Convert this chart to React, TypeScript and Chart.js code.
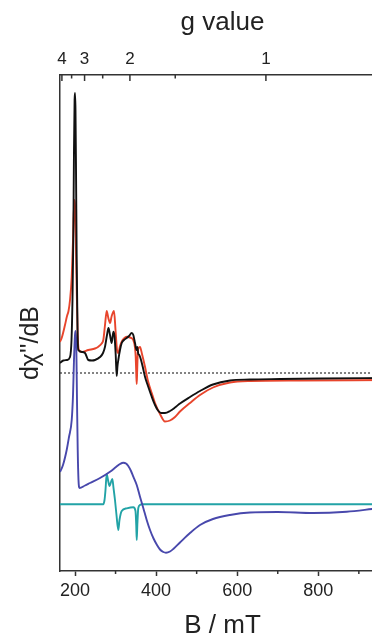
import React, { useEffect, useRef } from "react";
import { Chart, registerables } from "chart.js";

Chart.register(...registerables);

// ---- data (B in mT, intensity in arbitrary units) ----
const HNU = 670.8; // field (mT) corresponding to g = 1 at the measuring frequency

const gTicks = [4, 3, 2, 1];
const gMinorTicks = [3.5, 2.5, 1.5];
const bTicks = [200, 400, 600, 800];
const bMinorTicks = [300, 500, 700, 900];

const B_MIN = 163;
const B_MAX = 964.5;

// experimental spectrum (black)
const expB = [163.0, 171.1, 180.3, 187.7, 191.4, 193.8, 195.8, 197.5, 199.0, 200.0, 201.2, 202.5, 204.2, 206.2, 208.1, 217.3, 224.7, 232.8, 241.9, 249.3, 261.7, 269.1, 274.0, 278.9, 282.6, 286.3, 290.5, 294.5, 297.4, 300.4, 302.8, 304.8, 306.8, 311.0, 315.2, 320.8, 327.5, 333.2, 339.8, 343.8, 348.0, 351.7, 353.6, 356.1, 358.6, 362.8, 367.7, 372.6, 380.0, 389.2, 397.3, 404.7, 412.1, 421.9, 434.3, 446.6, 458.9, 483.6, 508.3, 540.3, 582.2, 631.6, 705.5, 804.2, 964.5];
const expI = [208, 210.5, 211, 214, 231, 271, 331, 421, 471, 478, 461, 401, 311, 241, 221, 219, 218, 211, 210.5, 211, 214, 218, 224.3, 236, 243, 236, 228, 239.3, 235, 216, 195, 205, 211, 221, 228, 231, 233, 235, 238, 236, 228, 221, 224, 217, 216, 211, 203, 194.3, 185, 174.3, 166, 160.5, 158, 158, 160, 163.5, 167.5, 174, 180, 186.5, 190.5, 191.5, 192, 192.5, 193];

// simulated total spectrum (red)
const simB = [163.0, 167.9, 175.3, 180.3, 184.0, 187.7, 191.9, 195.1, 198.3, 200.0, 202.0, 204.2, 206.7, 209.4, 217.3, 232.8, 249.3, 257.5, 265.8, 269.8, 274.0, 278.2, 282.2, 286.3, 290.5, 296.2, 299.9, 303.6, 306.8, 311.0, 315.2, 320.8, 327.5, 335.6, 343.8, 348.0, 349.7, 351.2, 352.2, 353.4, 354.6, 356.6, 360.3, 365.2, 372.6, 380.0, 389.2, 397.3, 409.6, 421.9, 434.3, 446.6, 458.9, 483.6, 508.3, 540.3, 582.2, 631.6, 754.9, 964.5];
const simI = [229, 234, 246, 255, 260, 271, 294, 331, 371, 366, 331, 281, 236, 221, 219, 221, 222.5, 224.3, 227.5, 231, 246, 260, 253, 248, 255, 260, 241, 221, 218, 225, 229.3, 232.5, 234.3, 233.5, 231, 223, 214, 196, 187, 201, 216, 223, 224, 217, 204.3, 190, 178, 168, 157, 149.5, 150.5, 154, 159.5, 168, 176, 183.5, 188.5, 190, 190.5, 191];

// broad component (blue)
const broadB = [163.0, 170.4, 179.5, 185.2, 191.9, 195.1, 197.5, 200.0, 201.5, 203.2, 204.9, 206.7, 208.6, 211.1, 224.7, 237.0, 261.7, 286.3, 301.1, 311.0, 319.1, 325.8, 331.4, 338.1, 343.8, 352.2, 360.3, 368.4, 376.8, 385.0, 393.1, 402.2, 409.6, 417.8, 424.4, 434.3, 442.4, 458.9, 483.6, 508.3, 540.3, 582.2, 631.6, 700.0, 786.9, 870.0, 932.4, 964.5];
const broadI = [99, 106, 121, 134, 151, 176, 211, 236, 240, 226, 171, 121, 91, 83, 85.5, 88, 93, 99.3, 104, 107, 108.3, 107.5, 105, 100, 94.3, 86, 74.3, 63, 51, 41, 33, 26, 21.5, 19, 18.3, 19.5, 22, 28.5, 38, 46, 52, 56, 58.5, 59, 58, 59.3, 62, 63.5];

// narrow component (teal)
const narrowB = [163.0, 269.8, 272.8, 275.2, 278.2, 281.4, 285.1, 288.8, 292.0, 295.0, 298.6, 302.3, 306.8, 309.7, 315.2, 327.5, 343.8, 349.2, 351.0, 352.2, 353.7, 356.1, 360.3, 364.5, 964.5];
const narrowI = [66.7, 66.7, 71, 81, 97, 91, 85, 89, 92, 83, 71, 56, 41, 51, 60, 62.7, 63.7, 60, 46, 31, 46, 63, 66, 66.7, 66.7];

const baselineB = [B_MIN, B_MAX];
const baselineI = [198, 198];

const X_TITLE = "B / mT";
const X2_TITLE = "g value";
const Y_TITLE = "d\u03C7''/dB";

const FONT = '"Liberation Sans", Arial, Helvetica, sans-serif';
const AXIS_COLOR = "#333";
const TEXT_COLOR = "#222";

const pts = (xs: number[], ys: number[]) => xs.map((x, i) => ({ x, y: ys[i] }));

const decorPlugin = {
  id: "decor",
  afterDraw(chart: any) {
    const { ctx, chartArea, scales } = chart;
    const x = scales.x;
    const x2 = scales.x2;
    ctx.save();
    ctx.strokeStyle = AXIS_COLOR;
    ctx.lineWidth = 1.5;
    ctx.beginPath();
    for (const v of bMinorTicks) {
      const p = x.getPixelForValue(v);
      ctx.moveTo(p, chartArea.bottom);
      ctx.lineTo(p, chartArea.bottom + 3);
    }
    for (const g of gTicks) {
      const p = x2.getPixelForValue(HNU / g);
      ctx.moveTo(p, chartArea.top);
      ctx.lineTo(p, chartArea.top + 6);
    }
    for (const g of gMinorTicks) {
      const p = x2.getPixelForValue(HNU / g);
      ctx.moveTo(p, chartArea.top);
      ctx.lineTo(p, chartArea.top + 3.5);
    }
    ctx.stroke();
    ctx.translate(31, 343);
    ctx.rotate(-Math.PI / 2);
    ctx.font = `25px ${FONT}`;
    ctx.fillStyle = TEXT_COLOR;
    ctx.textAlign = "center";
    ctx.textBaseline = "middle";
    ctx.fillText(Y_TITLE, 0, 0);
    ctx.restore();
  },
};

export default function App() {
  const ref = useRef<HTMLCanvasElement | null>(null);

  useEffect(() => {
    if (!ref.current) return;
    const line = (data: any, color: string, width: number, extra: any = {}) => ({
      data,
      borderColor: color,
      borderWidth: width,
      pointRadius: 0,
      fill: false,
      cubicInterpolationMode: "monotone",
      ...extra,
    });
    const chart = new Chart(ref.current, {
      type: "line",
      data: {
        datasets: [
          line(pts(expB, expI), "#111111", 1.9),
          line(pts(simB, simI), "#e8452c", 1.9),
          line(pts(broadB, broadI), "#4848ac", 1.9),
          line(pts(narrowB, narrowI), "#22a3a6", 1.9),
          line(pts(baselineB, baselineI), "#333333", 1.2, { borderDash: [2, 2], cubicInterpolationMode: "default", tension: 0 }),
        ] as any,
      },
      options: {
        responsive: false,
        maintainAspectRatio: false,
        devicePixelRatio: 1,
        animation: false,
        layout: { padding: 0 },
        plugins: { legend: { display: false }, tooltip: { enabled: false } },
        scales: {
          x: {
            type: "linear",
            position: "bottom",
            min: B_MIN,
            max: B_MAX,
            afterBuildTicks: (s: any) => {
              s.ticks = bTicks.map((v) => ({ value: v }));
            },
            afterFit: (s: any) => {
              s.height = 68;
            },
            grid: { display: true, drawOnChartArea: false, drawTicks: true, tickLength: 5, tickColor: AXIS_COLOR, tickWidth: 1.5 },
            border: { display: true, color: AXIS_COLOR, width: 1.5 },
            ticks: { padding: 4, color: TEXT_COLOR, font: { family: FONT, size: 18 }, maxRotation: 0, autoSkip: false },
            title: { display: true, text: X_TITLE, color: TEXT_COLOR, font: { family: FONT, size: 26, lineHeight: 1 }, padding: { top: 0, bottom: 0 } },
          },
          x2: {
            type: "linear",
            axis: "x",
            position: "top",
            min: B_MIN,
            max: B_MAX,
            afterBuildTicks: (s: any) => {
              s.ticks = gTicks.map((g) => ({ value: HNU / g }));
            },
            afterFit: (s: any) => {
              s.height = 75;
            },
            grid: { display: false, drawTicks: false },
            border: { display: true, color: AXIS_COLOR, width: 1.5 },
            ticks: {
              padding: 5,
              color: TEXT_COLOR,
              font: { family: FONT, size: 17 },
              maxRotation: 0,
              autoSkip: false,
              callback: (_v: any, i: number) => String(gTicks[i]),
            },
            title: { display: true, text: X2_TITLE, color: TEXT_COLOR, font: { family: FONT, size: 26, lineHeight: 1.2 }, padding: { top: 7.6, bottom: 0 } },
          },
          y: {
            type: "linear",
            position: "left",
            min: 0,
            max: 496,
            afterFit: (s: any) => {
              s.width = 60;
            },
            grid: { display: false, drawTicks: false },
            border: { display: true, color: AXIS_COLOR, width: 1.5 },
            ticks: { display: false },
          },
        },
      } as any,
      plugins: [decorPlugin],
    });
    return () => chart.destroy();
  }, []);

  return (
    <div style={{ position: "fixed", left: 0, top: 0, width: 372, height: 639, overflow: "hidden", background: "#fff" }}>
      <canvas ref={ref} width={385} height={639} style={{ display: "block", width: 385, height: 639 }} />
    </div>
  );
}
